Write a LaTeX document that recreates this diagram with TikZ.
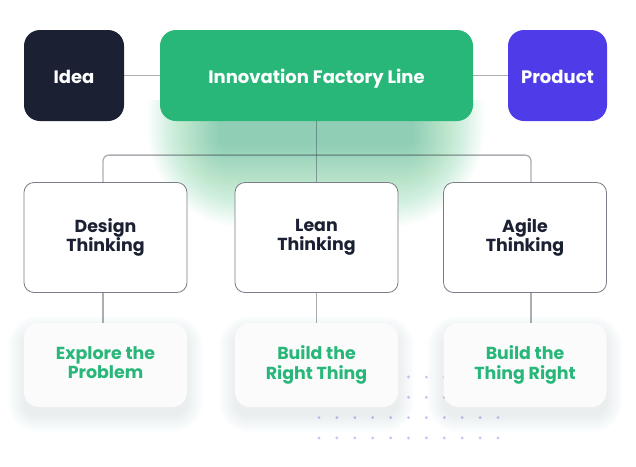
\documentclass[tikz,border=0pt]{standalone}
\usepackage{fontspec}
\setmainfont{Poppins}
\definecolor{navy}{HTML}{1C2033}
\definecolor{fgreen}{HTML}{28B779}
\definecolor{fpurple}{HTML}{4F3CE9}
\definecolor{lineg}{HTML}{303340}
\definecolor{boxline}{HTML}{7C7C86}
\definecolor{dotc}{HTML}{CBC4F6}
\definecolor{cardbg}{HTML}{FBFBFC}
\definecolor{shadowc}{HTML}{7A80A0}
\pgfdeclarelayer{bg}
\pgfsetlayers{bg,main}
\begin{document}
\begin{tikzpicture}[x=1pt,y=-1pt,
  topbox/.style={rounded corners=16pt, minimum height=91pt, text=white,
    font=\bfseries\fontsize{18}{20}\selectfont, inner sep=0pt,
    text height=16.5pt, text depth=1pt},
  twoline/.style={align=center, inner sep=0pt,
    execute at begin node={\vphantom{Alg}}, execute at end node={\vphantom{g}}},
  thinkbox/.style={twoline, draw=boxline, line width=0.8pt, fill=white, rounded corners=10pt,
    minimum width=163pt, minimum height=110pt, text=navy,
    font=\bfseries\fontsize{17.4}{19.5}\selectfont},
  card/.style={twoline, fill=cardbg, rounded corners=15pt, minimum width=163pt, minimum height=84pt,
    text=fgreen, font=\bfseries\fontsize{17.4}{19.5}\selectfont},
  conn/.style={draw=lineg, draw opacity=0.4, line width=1.3pt},
  dotfill/.style={fill=dotc}
]
\useasboundingbox (0,0) rectangle (636,466);

% top row
\node[topbox, fill=navy, minimum width=100pt] (idea) at (74,75.5) {Idea};
\node[topbox, fill=fgreen, minimum width=313pt] (factory) at (316.5,75.5) {Innovation Factory Line};
\node[topbox, fill=fpurple, minimum width=99pt] (product) at (557.5,75.5) {Product};

% thinking row
\node[thinkbox] (design) at (105.5,237.5) {Design\\Thinking};
\node[thinkbox] (lean) at (316.5,237.5) {Lean\\Thinking};
\node[thinkbox] (agile) at (525,237.5) {Agile\\Thinking};

% cards
\node[card] (explore) at (105.5,365) {Explore the\\Problem};
\node[card] (rightthing) at (316.5,365) {Build the\\Right Thing};
\node[card] (thingright) at (525,365) {Build the\\Thing Right};

\begin{pgfonlayer}{bg}
  \fill[white] (0,0) rectangle (636,466);
  % glow under the factory box
  \begin{scope}
    \clip (0,100) rectangle (636,466);
    \foreach \i in {0,...,47}{
      \fill[fgreen, opacity=0.0105, rounded corners={6pt+2*\i pt}]
        ({218-1.5*\i},{96-1.75*\i}) rectangle ({414+1.5*\i},{146+1.75*\i});
    }
  \end{scope}
  % dots
  \foreach \r in {0,1}{
    \foreach \c in {5,...,10}{
      \fill[dotfill] ({319+17.9*\c},{377+20.3*\r}) circle (1.6pt);
    }
  }
  \foreach \r in {2,3}{
    \foreach \c in {0,...,10}{
      \fill[dotfill] ({319+17.9*\c},{377+20.3*\r}) circle (1.6pt);
    }
  }
  % soft card shadows
  \foreach \n in {explore,rightthing,thingright}{
    \foreach \i in {0,...,16}{
      \fill[shadowc, opacity=0.009, rounded corners={15pt+\i pt}]
        ([xshift=-\i pt, yshift={\i pt-9pt}]\n.north west) rectangle
        ([xshift=\i pt, yshift={-\i pt-9pt}]\n.south east);
    }
  }
\end{pgfonlayer}

% connectors
\draw[conn] (idea.east) -- (factory.west);
\draw[conn] (factory.east) -- (product.west);
\draw[conn] (factory.south) -- (lean.north);
\draw[conn, rounded corners=6pt] ([xshift=-2.5pt]design.north) -- ++(0,-27) -| ([xshift=6pt]agile.north);
\draw[conn] ([xshift=-2.5pt]design.south) -- ([xshift=-2.5pt]explore.north);
\draw[conn] (lean.south) -- (rightthing.north);
\draw[conn] ([xshift=6pt]agile.south) -- ([xshift=6pt]thingright.north);
\end{tikzpicture}
\end{document}
